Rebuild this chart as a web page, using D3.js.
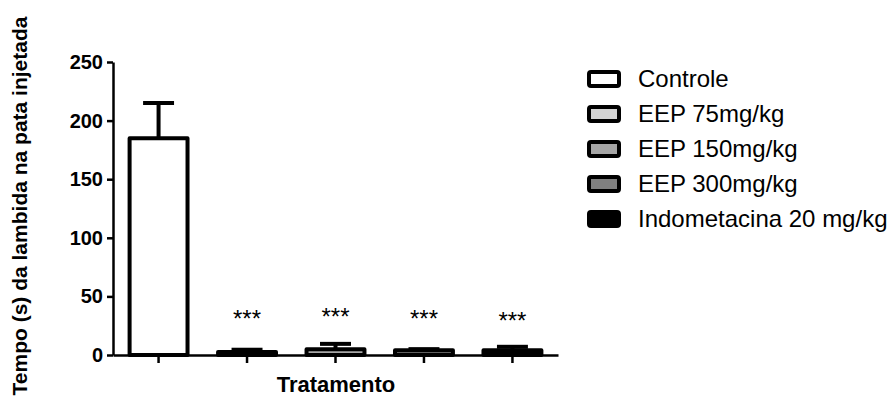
<!DOCTYPE html>
<html>
<head>
<meta charset="utf-8">
<script src="https://cdn.jsdelivr.net/npm/d3@7"></script>
<style>
  body { margin: 0; background: #fff; }
  svg { display: block; font-family: Arial, "Liberation Sans", sans-serif; }
</style>
</head>
<body>
<script>
// data
const groups = ["Controle", "EEP 75mg/kg", "EEP 150mg/kg", "EEP 300mg/kg", "Indometacina 20 mg/kg"];
const means = [185, 2.5, 5, 4, 4];
const sems = [30, 2, 4.5, 1, 3];
const fills = ["#ffffff", "#d3d3d3", "#a6a6a6", "#808080", "#000000"];
const stars = ["", "***", "***", "***", "***"];
const starLevel = [0, 35, 37, 35, 33];   // height of the asterisks, in axis units
const yTicks = [0, 50, 100, 150, 200, 250];

const width = 891, height = 399;

const svg = d3.select("body").append("svg")
    .attr("width", width)
    .attr("height", height);

const x = d3.scaleBand()
    .domain(groups)
    .range([113, 558])
    .paddingInner(0.30)
    .paddingOuter(0.165);

const y = d3.scaleLinear()
    .domain([0, 250])
    .range([355, 62]);

// y axis
const yAxis = svg.append("g")
    .attr("transform", "translate(113,0)")
    .call(d3.axisLeft(y).tickValues(yTicks).tickSize(6).tickPadding(4).tickSizeOuter(0));
yAxis.select(".domain").attr("stroke-width", 2.5);
yAxis.selectAll(".tick line").attr("stroke-width", 2.5);
yAxis.selectAll(".tick text")
    .style("font", "bold 20px Arial, 'Liberation Sans', sans-serif")
    .attr("fill", "#000");

// bars
const bw = x.bandwidth();
const bars = svg.append("g");
groups.forEach((g, i) => {
  const cx = x(g) + bw / 2;
  // error bar (upper only)
  bars.append("line")
      .attr("x1", cx).attr("x2", cx)
      .attr("y1", y(means[i])).attr("y2", y(means[i] + sems[i]))
      .attr("stroke", "#000").attr("stroke-width", 4);
  bars.append("line")
      .attr("x1", cx - bw * 0.25).attr("x2", cx + bw * 0.25)
      .attr("y1", y(means[i] + sems[i])).attr("y2", y(means[i] + sems[i]))
      .attr("stroke", "#000").attr("stroke-width", 4);
  bars.append("rect")
      .attr("x", x(g) + 2)
      .attr("y", y(means[i]))
      .attr("width", bw - 4)
      .attr("height", y(0) - y(means[i]))
      .attr("fill", fills[i])
      .attr("stroke", "#000")
      .attr("stroke-width", 4)
      .attr("stroke-linejoin", "round");
  if (stars[i]) {
    svg.append("text")
        .attr("x", cx)
        .attr("y", y(starLevel[i]) + 13)
        .attr("text-anchor", "middle")
        .style("font", "24px Arial, 'Liberation Sans', sans-serif")
        .text(stars[i]);
  }
});

// x axis
const xAxis = svg.append("g")
    .attr("transform", "translate(0,355)")
    .call(d3.axisBottom(x).tickSize(8).tickSizeOuter(0).tickFormat(""));
xAxis.select(".domain").attr("stroke-width", 2.5);
xAxis.selectAll(".tick line").attr("stroke-width", 2.5);

// axis titles
svg.append("text")
    .attr("transform", "translate(27,206) rotate(-90)")
    .attr("text-anchor", "middle")
    .style("font", "bold 21px Arial, 'Liberation Sans', sans-serif")
    .text("Tempo (s) da lambida na pata injetada");

svg.append("text")
    .attr("x", 336)
    .attr("y", 392)
    .attr("text-anchor", "middle")
    .style("font", "bold 22px Arial, 'Liberation Sans', sans-serif")
    .text("Tratamento");

// legend
const legend = svg.append("g").attr("transform", "translate(589,79)");
groups.forEach((g, i) => {
  const row = legend.append("g").attr("transform", `translate(0,${i * 35})`);
  row.append("rect")
      .attr("x", 0).attr("y", -7)
      .attr("width", 30).attr("height", 14)
      .attr("rx", 2)
      .attr("fill", fills[i])
      .attr("stroke", "#000")
      .attr("stroke-width", 4);
  row.append("text")
      .attr("x", 49).attr("y", 8)
      .style("font", "24px Arial, 'Liberation Sans', sans-serif")
      .text(g);
});
</script>
</body>
</html>
